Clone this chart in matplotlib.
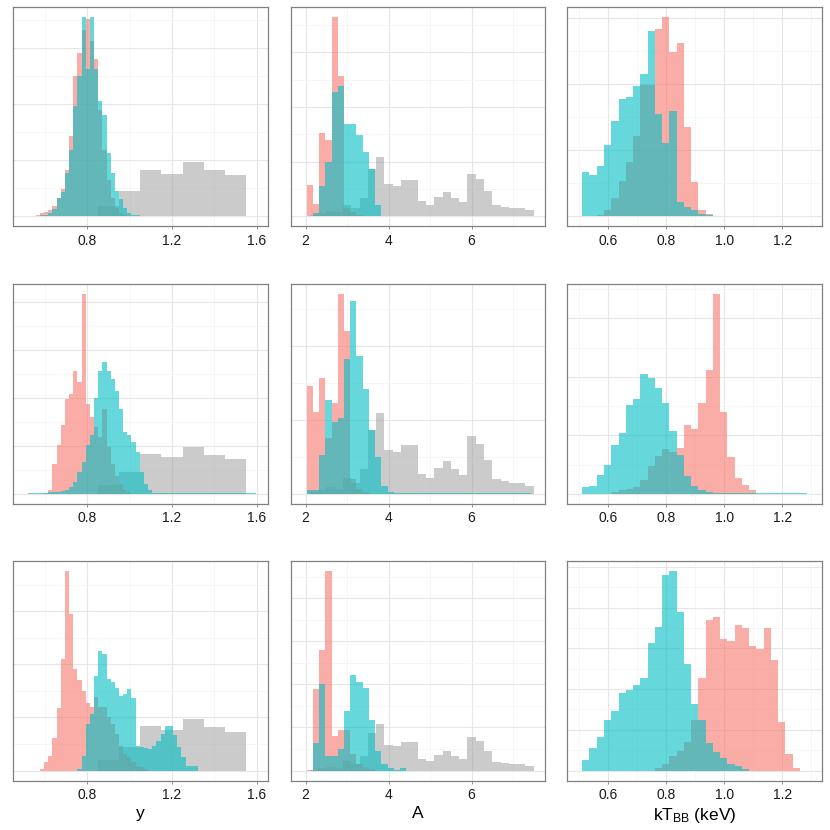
import numpy as np
import matplotlib.pyplot as plt
from matplotlib.ticker import MultipleLocator

plt.rcParams['font.family'] = ['Liberation Sans', 'DejaVu Sans']
plt.rcParams['mathtext.fontset'] = 'custom'
plt.rcParams['mathtext.rm'] = 'Liberation Sans'
plt.rcParams['mathtext.it'] = 'Liberation Sans:italic'

RED = '#F8766D'
CYAN = '#00BFC4'
GREY = '#999999'

# prior samples (grey), same for every row of a column
y_prior_start, y_prior_width = 0.85, 0.1
y_prior = [19, 45, 83, 76, 97, 82, 73]
A_prior_start, A_prior_width = 2.1, 0.2
A_prior = [2, 5, 9, 7, 21, 15, 34, 87, 109, 59, 56, 66, 66, 27, 21, 35, 45, 34,
           26, 78, 68, 46, 20, 17, 15, 15, 11]

# column 1 : y
y_width = 0.0196
y_red_start = [0.5584, 0.5976, 0.578]
y_red = [
    [3, 6, 8, 11, 18, 33, 48, 83, 143, 250, 292, 333, 351, 312, 281, 190, 119, 65,
     33, 15, 6, 3],
    [2, 7, 63, 101, 143, 199, 208, 257, 234, 417, 187, 161, 140, 119, 178, 98, 63,
     38, 21, 8, 3],
    [3, 16, 28, 61, 117, 211, 376, 295, 191, 170, 150, 128, 119, 138, 120, 120, 100,
     88, 69, 47, 31, 25, 16, 9, 6, 3],
]
y_cyan_start = [0.5192, 0.5192, 0.7545]
y_cyan = [
    [1, 1, 1, 2, 3, 5, 13, 32, 43, 77, 119, 196, 250, 356, 262, 356, 262, 205, 180,
     113, 77, 45, 30, 15, 6, 3, 2, 1, 1, 1, 1, 1, 1, 1, 1, 1, 1, 1, 1, 1, 1, 1, 1,
     1, 1, 1, 1, 1, 1, 1, 1, 1, 1, 1, 1],
    [1, 1, 1, 1, 2, 3, 3, 4, 6, 8, 14, 24, 45, 66, 101, 122, 201, 257, 276, 257, 240,
     215, 178, 129, 122, 108, 87, 45, 21, 7, 1, 1, 1, 1, 1, 1, 1, 1, 1, 1, 1, 1, 1,
     1, 1, 1, 1, 1, 1, 1, 1, 1, 1, 1, 1],
    [3, 28, 88, 106, 178, 225, 220, 172, 166, 156, 141, 144, 153, 136, 47, 45, 43,
     41, 47, 56, 69, 83, 83, 66, 45, 26, 9, 9, 9],
]

# column 2 : A
A_width = 0.15
A_red_start = [2.024, 2.024, 2.024]
A_red = [
    [57, 23, 153, 140, 365, 256, 15, 7, 3],
    [146, 111, 157, 75, 123, 270, 220, 20, 7, 2],
    [2, 188, 279, 463, 80, 95, 93, 39, 15, 8, 4],
]
A_cyan_start = [2.174, 2.024, 2.174]
A_cyan = [
    [6, 56, 99, 227, 239, 168, 168, 149, 118, 87, 20, 1, 1, 1, 1, 1, 1, 1, 1, 1, 1,
     1, 1, 1, 1, 1, 1, 1, 1, 1, 1, 1, 1, 1, 1],
    [5, 5, 52, 127, 97, 102, 182, 261, 187, 142, 86, 50, 11, 2, 1, 1, 1, 1, 1, 1, 1,
     1, 1, 1, 1, 1, 1, 1, 1, 1, 1, 1, 1, 1, 1, 1],
    [63, 201, 33, 33, 50, 137, 222, 205, 191, 118, 45, 15, 6, 2, 6],
]

# column 3 : kT_BB
kT_width = 0.025
kT_red_start = [0.5605, 0.6105, 0.7605]
kT_red = [
    [2, 9, 28, 53, 82, 122, 199, 199, 284, 302, 248, 262, 135, 52, 10, 3],
    [3, 6, 9, 11, 23, 47, 64, 76, 71, 79, 118, 110, 155, 211, 341, 140, 63, 27, 15, 6],
    [7, 15, 35, 48, 71, 125, 226, 370, 378, 322, 317, 357, 349, 306, 299, 349, 271,
     119, 41, 7],
]
kT_cyan_start = [0.5105, 0.5105, 0.5105]
kT_cyan = [
    [67, 63, 76, 108, 144, 178, 181, 197, 216, 280, 154, 111, 159, 22, 14, 9, 4, 2,
     1, 1, 1, 1, 1, 1, 1, 1, 1, 1, 1, 1, 1],
    [11, 14, 33, 50, 83, 104, 151, 162, 204, 198, 181, 155, 107, 66, 31, 13, 6, 3, 2,
     1, 1, 1, 1, 1, 1, 1, 1, 1, 1, 1, 1],
    [27, 56, 83, 124, 146, 191, 197, 210, 228, 312, 353, 481, 490, 390, 262, 164, 125,
     68, 45, 30, 17, 11, 4],
]

columns = [
    dict(red=(y_red_start, y_width, y_red), cyan=(y_cyan_start, y_width, y_cyan),
         prior=(y_prior_start, y_prior_width, y_prior), xlim=(0.452, 1.652),
         major=0.4, minor=0.2, fmt='%.1f', label='y'),
    dict(red=(A_red_start, A_width, A_red), cyan=(A_cyan_start, A_width, A_cyan),
         prior=(A_prior_start, A_prior_width, A_prior), xlim=(1.639, 7.775),
         major=2, minor=1, fmt='%d', label='A'),
    dict(red=(kT_red_start, kT_width, kT_red), cyan=(kT_cyan_start, kT_width, kT_cyan),
         prior=None, xlim=(0.459, 1.336),
         major=0.2, minor=0.1, fmt='%.1f', label=r'kT$_{\mathrm{BB}}$ (keV)'),
]


def draw_hist(ax, start, width, counts, color, alpha):
    counts = np.asarray(counts)
    edges = start + width * np.arange(len(counts) + 1)
    ax.stairs(counts, edges, fill=True, color=color, alpha=alpha, linewidth=0)
    return counts.max()


W = 830.0
lefts = [13.3, 290.7, 567.3]
tops = [6.7, 284.3, 561.0]
pw, ph = 254.5, 219.5

fig = plt.figure(figsize=(8.3, 8.3), dpi=100)

for row in range(3):
    for col in range(3):
        c = columns[col]
        ax = fig.add_axes([lefts[col] / W, 1 - (tops[row] + ph) / W, pw / W, ph / W])
        ax.set_axisbelow(True)
        top = 0
        if c['prior'] is not None:
            ps, pwid, pc = c['prior']
            top = max(top, draw_hist(ax, ps, pwid, pc, GREY, 0.5))
        rs, rw, rc = c['red']
        top = max(top, draw_hist(ax, rs[row], rw, rc[row], RED, 0.6))
        cs, cw, cc = c['cyan']
        top = max(top, draw_hist(ax, cs[row], cw, cc[row], CYAN, 0.6))

        ax.set_xlim(*c['xlim'])
        ax.set_ylim(-0.05 * top, 1.05 * top)
        ax.xaxis.set_major_locator(MultipleLocator(c['major']))
        ax.xaxis.set_minor_locator(MultipleLocator(c['minor']))
        ax.xaxis.set_major_formatter(plt.FormatStrFormatter(c['fmt']))
        ax.yaxis.set_major_locator(MultipleLocator(100))
        ax.yaxis.set_minor_locator(MultipleLocator(50))

        ax.grid(which='major', color='#e6e6e6', linewidth=0.8)
        ax.grid(which='minor', color='#f3f3f3', linewidth=0.5)
        for s in ax.spines.values():
            s.set_color('#808080')
            s.set_linewidth(0.9)
        ax.tick_params(axis='y', which='both', left=False, labelleft=False)
        ax.tick_params(axis='x', which='major', length=2.2, width=0.6,
                       color='#7f7f7f', labelsize=10, labelcolor='#1a1a1a', pad=3.2)
        ax.tick_params(axis='x', which='minor', length=0)

        if row == 2:
            ax.set_xlabel(c['label'], fontsize=12.5, labelpad=3)

fig.savefig('out.png', dpi=100)
